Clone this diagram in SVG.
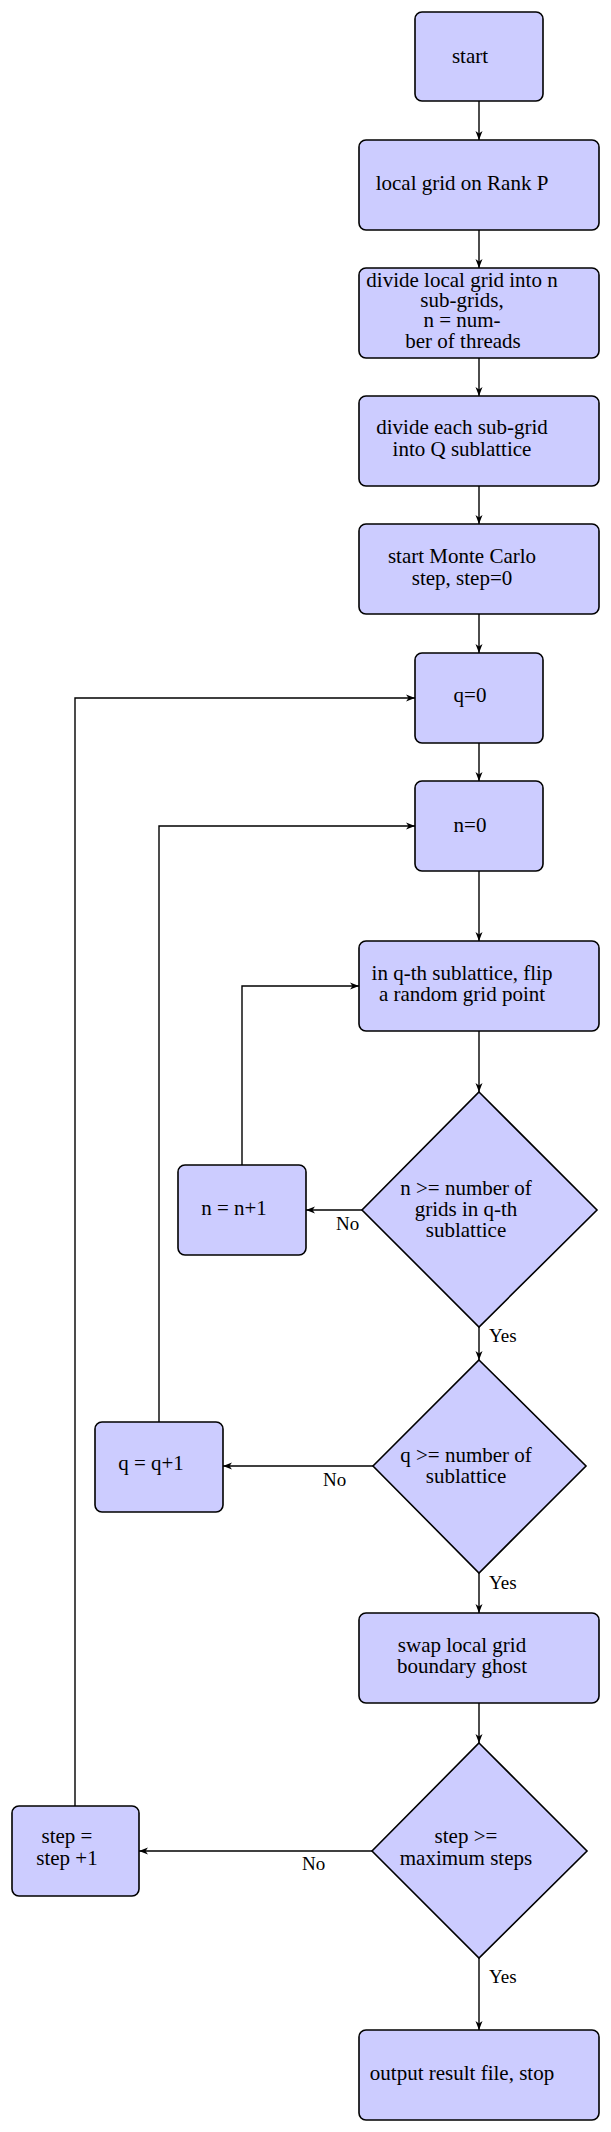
<svg xmlns="http://www.w3.org/2000/svg" width="611" height="2132" viewBox="0 0 611 2132">
<style>
.box{fill:#ccccff;stroke:#000;stroke-width:1.6}
.t{font-family:"Liberation Serif","DejaVu Serif",serif;font-size:21px;fill:#000;text-anchor:middle}
.l{font-family:"Liberation Serif","DejaVu Serif",serif;font-size:19px;fill:#000}
.c{fill:none;stroke:#000;stroke-width:1.4}
</style>
<defs>
<marker id="ah" markerUnits="userSpaceOnUse" markerWidth="10" markerHeight="8" refX="9" refY="4" orient="auto">
<path d="M0,0.5 L9,4 L0,7.5 L2.5,4 z" fill="#000"/>
</marker>
</defs>
<rect width="611" height="2132" fill="#fff"/>
<g id="connectors">
<path class="c" marker-end="url(#ah)" d="M479,101 V140"/>
<path class="c" marker-end="url(#ah)" d="M479,230 V268"/>
<path class="c" marker-end="url(#ah)" d="M479,358 V396"/>
<path class="c" marker-end="url(#ah)" d="M479,486 V524"/>
<path class="c" marker-end="url(#ah)" d="M479,614 V653"/>
<path class="c" marker-end="url(#ah)" d="M479,743 V781"/>
<path class="c" marker-end="url(#ah)" d="M479,871 V941"/>
<path class="c" marker-end="url(#ah)" d="M479,1031 V1092"/>
<path class="c" marker-end="url(#ah)" d="M362,1210 H306"/>
<path class="c" marker-end="url(#ah)" d="M242,1165 V986 H359"/>
<path class="c" marker-end="url(#ah)" d="M479,1327 V1360"/>
<path class="c" marker-end="url(#ah)" d="M373,1466 H223"/>
<path class="c" marker-end="url(#ah)" d="M159,1422 V826 H415"/>
<path class="c" marker-end="url(#ah)" d="M479,1573 V1613"/>
<path class="c" marker-end="url(#ah)" d="M479,1703 V1743"/>
<path class="c" marker-end="url(#ah)" d="M372,1851 H139"/>
<path class="c" marker-end="url(#ah)" d="M75,1806 V698 H415"/>
<path class="c" marker-end="url(#ah)" d="M479,1958 V2030"/>
<text class="l" x="336" y="1230">No</text>
<text class="l" x="489" y="1342">Yes</text>
<text class="l" x="323" y="1486">No</text>
<text class="l" x="489" y="1589">Yes</text>
<text class="l" x="302" y="1870">No</text>
<text class="l" x="489" y="1983">Yes</text>
</g>
<g id="start"><rect class="box" x="415" y="12" width="128" height="89" rx="7"/><text class="t" x="470" y="63">start</text></g>
<g id="local"><rect class="box" x="359" y="140" width="240" height="90" rx="7"/><text class="t" x="462" y="190">local grid on Rank P</text></g>
<g id="divide"><rect class="box" x="359" y="268" width="240" height="90" rx="7"/>
<text class="t" x="462" y="287">divide local grid into n</text>
<text class="t" x="462" y="307">sub-grids,</text>
<text class="t" x="462" y="327">n = num-</text>
<text class="t" x="463" y="348">ber of threads</text></g>
<g id="divideeach"><rect class="box" x="359" y="396" width="240" height="90" rx="7"/>
<text class="t" x="462" y="434">divide each sub-grid</text>
<text class="t" x="462" y="456">into Q sublattice</text></g>
<g id="startmc"><rect class="box" x="359" y="524" width="240" height="90" rx="7"/>
<text class="t" x="462" y="563">start Monte Carlo</text>
<text class="t" x="462" y="585">step, step=0</text></g>
<g id="q0"><rect class="box" x="415" y="653" width="128" height="90" rx="7"/><text class="t" x="470" y="702">q=0</text></g>
<g id="n0"><rect class="box" x="415" y="781" width="128" height="90" rx="7"/><text class="t" x="470" y="832">n=0</text></g>
<g id="flip"><rect class="box" x="359" y="941" width="240" height="90" rx="7"/>
<text class="t" x="462" y="980">in q-th sublattice, flip</text>
<text class="t" x="462" y="1001">a random grid point</text></g>
<g id="dec1"><polygon class="box" points="479,1092 597,1210 479,1327 362,1210"/>
<text class="t" x="466" y="1195">n &gt;= number of</text>
<text class="t" x="466" y="1216">grids in q-th</text>
<text class="t" x="466" y="1237">sublattice</text></g>
<g id="ninc"><rect class="box" x="178" y="1165" width="128" height="90" rx="7"/><text class="t" x="234" y="1215">n = n+1</text></g>
<g id="dec2"><polygon class="box" points="479,1360 586,1466 479,1573 373,1466"/>
<text class="t" x="466" y="1462">q &gt;= number of</text>
<text class="t" x="466" y="1483">sublattice</text></g>
<g id="qinc"><rect class="box" x="95" y="1422" width="128" height="90" rx="7"/><text class="t" x="151" y="1470">q = q+1</text></g>
<g id="swap"><rect class="box" x="359" y="1613" width="240" height="90" rx="7"/>
<text class="t" x="462" y="1652">swap local grid</text>
<text class="t" x="462" y="1673">boundary ghost</text></g>
<g id="dec3"><polygon class="box" points="479,1743 587,1851 479,1958 372,1851"/>
<text class="t" x="466" y="1843">step &gt;=</text>
<text class="t" x="466" y="1865">maximum steps</text></g>
<g id="stepinc"><rect class="box" x="12" y="1806" width="127" height="90" rx="7"/>
<text class="t" x="67" y="1843">step =</text>
<text class="t" x="67" y="1865">step +1</text></g>
<g id="output"><rect class="box" x="359" y="2030" width="240" height="90" rx="7"/><text class="t" x="462" y="2080">output result file, stop</text></g>
</svg>
